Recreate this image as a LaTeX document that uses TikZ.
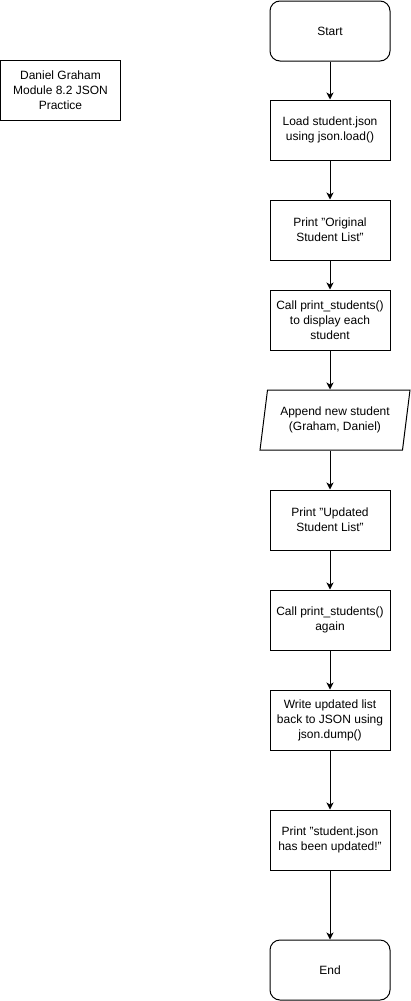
\documentclass[tikz,border=0pt]{standalone}
\usepackage{fontspec}
\setmainfont{Liberation Sans}
\usetikzlibrary{arrows.meta,shapes.geometric}
\begin{document}
\begin{tikzpicture}[x=1pt,y=-1pt,
  every node/.style={font=\fontsize{12}{15}\selectfont, align=center, inner sep=0pt},
  procbox/.style={draw, line width=1pt, minimum width=120pt, minimum height=60pt},
  termbox/.style={procbox, rounded corners=10pt},
  iobox/.style={draw, line width=1pt, trapezium, trapezium left angle=74, trapezium right angle=106,
    trapezium stretches body, minimum width=150pt, minimum height=60pt},
  flow/.style={draw, line width=1pt, -{Stealth[length=7pt,width=7pt,inset=2pt]}}]
  \useasboundingbox (0,0) rectangle (411,1001);

  % author note
  \node[procbox] (note) at (60.5,90) {Daniel Graham\\Module 8.2 JSON\\Practice};

  % main flow
  \node[termbox] (start)  at (330,31)  {Start};
  \node[procbox] (load)   at (330,130) {Load student.json\\using json.load()};
  \node[procbox] (porig)  at (330,230) {Print "Original\\Student List"};
  \node[procbox] (call1)  at (330,320) {Call print\_students()\\to display each\\student};
  \node[iobox]   (append) at (335,420) {Append new student\\(Graham, Daniel)};
  \node[procbox] (pupd)   at (330,520) {Print "Updated\\Student List"};
  \node[procbox] (call2)  at (330,620) {Call print\_students()\\again};
  \node[procbox] (write)  at (330,720) {Write updated list\\back to JSON using\\json.dump()};
  \node[procbox] (pjson)  at (330,840) {Print "student.json\\has been updated!"};
  \node[termbox] (stop)   at (330,970) {End};

  % connectors
  \draw[flow] (start) -- (load);
  \draw[flow] (load) -- (porig);
  \draw[flow] (porig) -- (call1);
  \draw[flow] (call1.south) -- (call1.south |- append.north);
  \draw[flow] (pupd.north |- append.south) -- (pupd.north);
  \draw[flow] (pupd) -- (call2);
  \draw[flow] (call2) -- (write);
  \draw[flow] (write) -- (pjson);
  \draw[flow] (pjson) -- (stop);
\end{tikzpicture}
\end{document}
